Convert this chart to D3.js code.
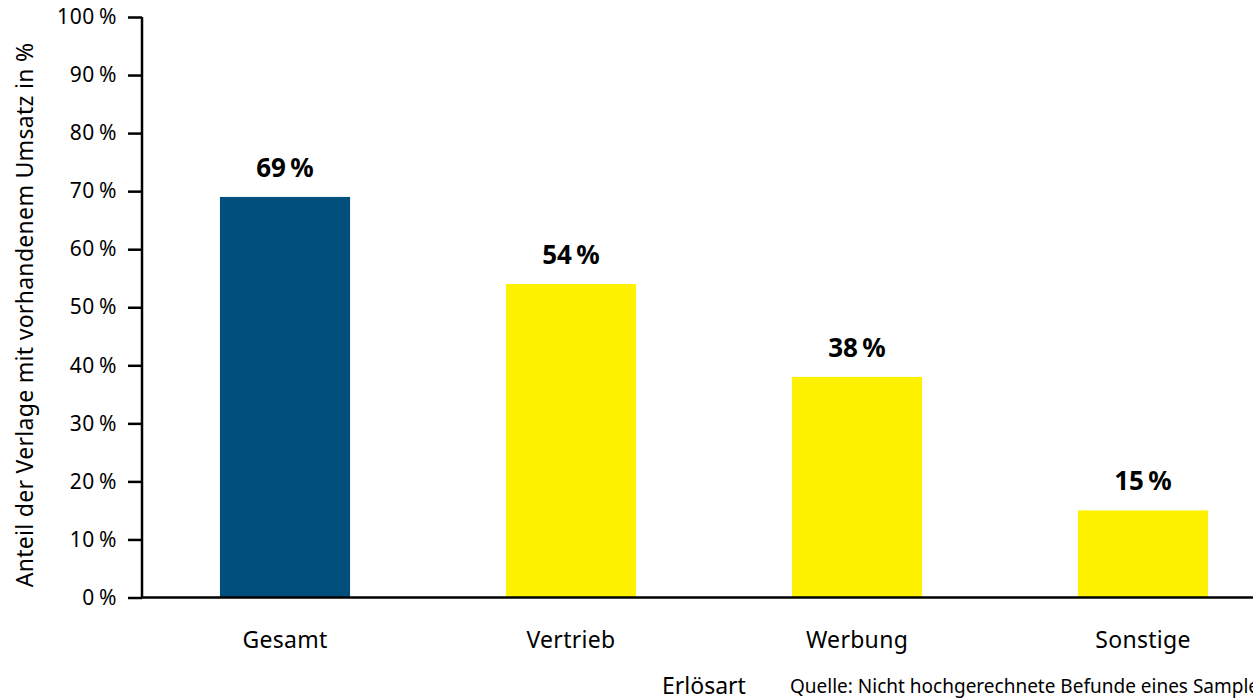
<!DOCTYPE html>
<html>
<head>
<meta charset="utf-8">
<script src="https://cdn.jsdelivr.net/npm/d3@7"></script>
<style>
  html, body { margin: 0; padding: 0; background: #fff; }
  svg { display: block; font-family: "Noto Sans", "Open Sans", sans-serif; }
</style>
</head>
<body>
<svg id="chart" width="1253" height="698"></svg>
<script>
// Revenue types and share of publishers with revenue (%)
const categories = ["Gesamt", "Vertrieb", "Werbung", "Sonstige"];
const shares = [69, 54, 38, 15];
const barColors = ["#004f7c", "#fff200", "#fff200", "#fff200"];
const yTicks = [0, 10, 20, 30, 40, 50, 60, 70, 80, 90, 100];

const yTitle = "Anteil der Verlage mit vorhandenem Umsatz in %";
const xTitle = "Erlösart";
const sourceNote = "Quelle: Nicht hochgerechnete Befunde eines Samples";

const svg = d3.select("#chart");
const W = 1253, H = 698;
const plotLeft = 142, plotRight = 1286, plotTop = 17, plotBottom = 597.5;

const x = d3.scaleBand()
  .domain(categories)
  .range([plotLeft, plotRight])
  .paddingInner(0.545)
  .paddingOuter(0.2725);

const y = d3.scaleLinear().domain([0, 100]).range([plotBottom, plotTop]);

const fmt = v => v + "\u2009%";

// Bars
svg.append("g")
  .selectAll("rect")
  .data(categories)
  .join("rect")
  .attr("x", d => x(d))
  .attr("y", (d, i) => y(shares[i]))
  .attr("width", x.bandwidth())
  .attr("height", (d, i) => plotBottom - y(shares[i]))
  .attr("fill", (d, i) => barColors[i]);

// Value labels
svg.append("g")
  .selectAll("text")
  .data(categories)
  .join("text")
  .attr("x", d => x(d) + x.bandwidth() / 2)
  .attr("y", (d, i) => y(shares[i]) - 20)
  .attr("text-anchor", "middle")
  .attr("font-size", 26)
  .attr("font-weight", 700)
  .attr("fill", "#000")
  .text((d, i) => fmt(shares[i]));

// Y axis
const yAxis = svg.append("g")
  .attr("transform", `translate(${plotLeft},0)`)
  .call(d3.axisLeft(y).tickValues(yTicks).tickFormat(fmt).tickSize(14).tickPadding(11));
yAxis.select(".domain").attr("stroke", "#000").attr("stroke-width", 2.5)
  .attr("d", `M0,${plotTop}V${plotBottom}`);
yAxis.selectAll(".tick line").attr("stroke", "#000").attr("stroke-width", 2.5);
yAxis.selectAll(".tick text")
  .attr("font-size", 21)
  .attr("letter-spacing", 0.6)
  .attr("fill", "#000")
  .attr("font-family", "'Noto Sans', 'Open Sans', sans-serif");

// Baseline across the plot
svg.append("line")
  .attr("x1", plotLeft).attr("x2", W)
  .attr("y1", plotBottom).attr("y2", plotBottom)
  .attr("stroke", "#000").attr("stroke-width", 2.5);

// Category labels
svg.append("g")
  .selectAll("text")
  .data(categories)
  .join("text")
  .attr("x", d => x(d) + x.bandwidth() / 2)
  .attr("y", 648)
  .attr("text-anchor", "middle")
  .attr("font-size", 23)
  .attr("letter-spacing", 0.3)
  .attr("fill", "#000")
  .text(d => d);

// Axis titles and source
svg.append("text")
  .attr("transform", `translate(33,315) rotate(-90)`)
  .attr("text-anchor", "middle")
  .attr("font-size", 23)
  .attr("letter-spacing", 0.3)
  .attr("fill", "#000")
  .text(yTitle);

svg.append("text")
  .attr("x", 704).attr("y", 694)
  .attr("text-anchor", "middle")
  .attr("font-size", 23)
  .attr("fill", "#000")
  .text(xTitle);

svg.append("text")
  .attr("x", 790).attr("y", 693)
  .attr("font-size", 19)
  .attr("fill", "#000")
  .text(sourceNote);
</script>
</body>
</html>
